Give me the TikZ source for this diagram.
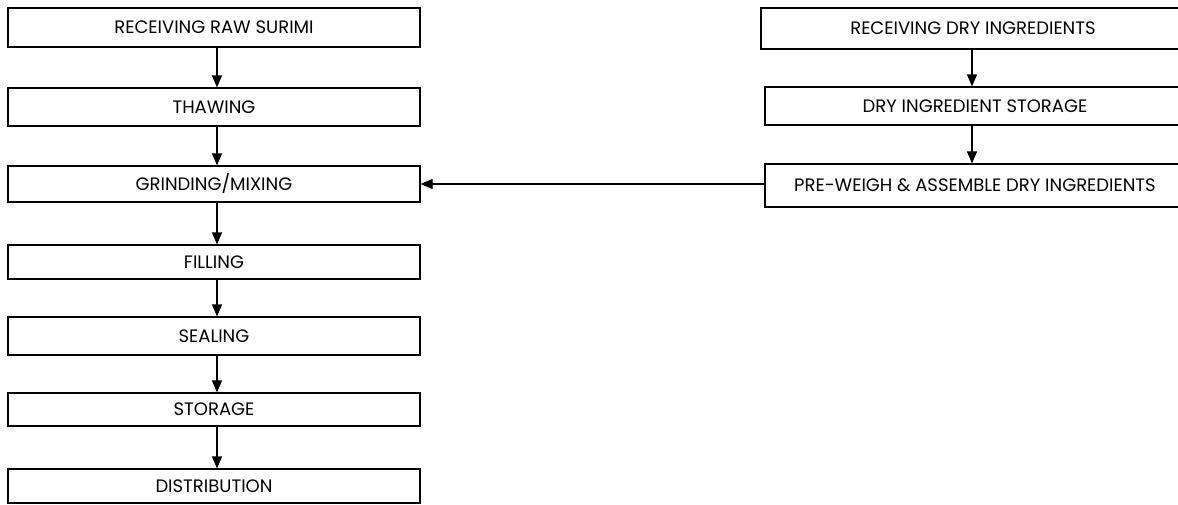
\documentclass[tikz,border=0pt]{standalone}
\usepackage{fontspec}
\setmainfont{Poppins}
\usetikzlibrary{arrows.meta}
\tikzset{
  box/.style={draw=black, line width=1.2pt, rectangle, inner sep=0pt, font=\fontsize{18}{20}\selectfont},
  arr/.style={line width=1.2pt, -{Triangle[width=10pt,length=12pt]}},
}
\begin{document}
\begin{tikzpicture}[x=1pt,y=-1pt]
\useasboundingbox (0,0) rectangle (1178,504);
% left column
\node[box, minimum width=412pt, minimum height=39pt] (L1) at (214,27.5) {RECEIVING RAW SURIMI};
\node[box, minimum width=412pt, minimum height=38pt] (L2) at (214,107) {THAWING};
\node[box, minimum width=412pt, minimum height=36pt] (L3) at (214,184) {GRINDING/MIXING};
\node[box, minimum width=412pt, minimum height=34pt] (L4) at (214,262) {FILLING};
\node[box, minimum width=412pt, minimum height=38pt] (L5) at (214,336) {SEALING};
\node[box, minimum width=412pt, minimum height=33pt] (L6) at (214,409.5) {STORAGE};
\node[box, minimum width=412pt, minimum height=34pt] (L7) at (214,486) {DISTRIBUTION};
% right column
\node[box, minimum width=424pt, minimum height=41pt] (R1) at (973,28.5) {RECEIVING DRY INGREDIENTS};
\node[box, minimum width=420pt, minimum height=38pt] (R2) at (975,106) {DRY INGREDIENT STORAGE};
\node[box, minimum width=420pt, minimum height=43pt] (R3) at (975,185.5) {PRE-WEIGH \& ASSEMBLE DRY INGREDIENTS};
% connectors
\foreach \a/\b in {L1/L2,L2/L3,L3/L4,L4/L5,L5/L6,L6/L7}
  \draw[arr] ([xshift=3pt]\a.south) -- ([xshift=3pt]\b.north);
\draw[arr] ([xshift=-3pt]R2.north |- R1.south) -- ([xshift=-3pt]R2.north);
\draw[arr] ([xshift=-3pt]R2.south) -- ([xshift=-3pt]R3.north);
\draw[arr] (R3.west |- L3.east) -- (L3.east);
\end{tikzpicture}
\end{document}
